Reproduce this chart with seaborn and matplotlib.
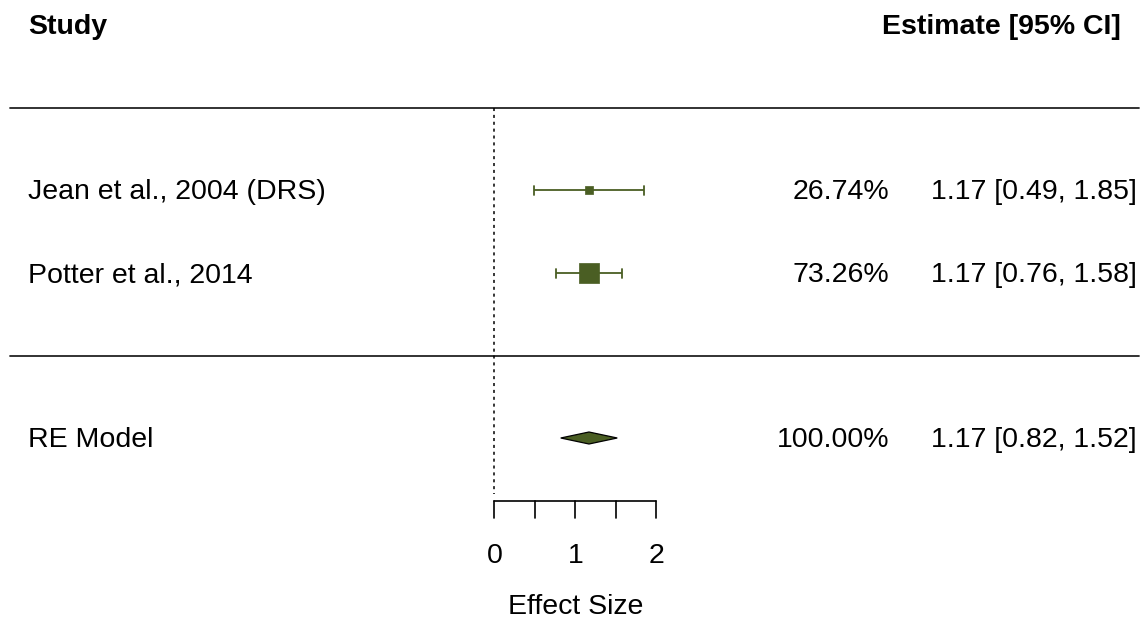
import matplotlib
matplotlib.use("Agg")
import matplotlib.pyplot as plt
import seaborn as sns
import pandas as pd
import numpy as np

studies = ["Jean et al., 2004 (DRS)", "Potter et al., 2014"]
estimates = [1.17, 1.17]
ci_lower = [0.49, 0.76]
ci_upper = [1.85, 1.58]
weights = [26.74, 73.26]

model_label = "RE Model"
model_est = 1.17
model_lower = 0.82
model_upper = 1.52
model_weight = 100.00

tick_values = [0, 0.5, 1, 1.5, 2]
tick_labels = ["0", "", "1", "", "2"]

GREEN = "#4a5e23"
FS = 20.5
FONT = ["Liberation Sans", "DejaVu Sans"]

sns.set_theme(style="white")
plt.rcParams["font.family"] = FONT
plt.rcParams["text.color"] = "black"

fig = plt.figure(figsize=(11.4, 6.21), dpi=100)
ax = fig.add_axes([0, 0, 1, 1])
scale = 80.75
x0 = 494.5
ax.set_xlim(-x0 / scale, (1140 - x0) / scale)
ax.set_ylim(621, 0)
ax.axis("off")

row_y = [190, 273]
model_y = 438
TXT_DY = 2

df = pd.DataFrame({"study": studies, "est": estimates, "lo": ci_lower,
                   "hi": ci_upper, "w": weights, "y": row_y})

# CI lines with caps
for _, r in df.iterrows():
    ax.plot([r.lo, r.hi], [r.y, r.y], color=GREEN, lw=1.3, solid_capstyle="butt")
    for xv in (r.lo, r.hi):
        ax.plot([xv, xv], [r.y - 4.5, r.y + 4.5], color=GREEN, lw=1.3)

sns.scatterplot(data=df, x="est", y="y", size="w", sizes=(28, 200),
                size_norm=(min(weights), max(weights)), marker="s",
                color=GREEN, edgecolor=GREEN, linewidth=0.5, legend=False, ax=ax, zorder=3)

# diamond
half_h = 6.0
ax.fill([model_lower, model_est, model_upper, model_est],
        [model_y, model_y - half_h, model_y, model_y + half_h],
        facecolor=GREEN, edgecolor="black", lw=0.9, zorder=3)

# separators
ax.plot([-x0 / scale + 10 / scale, (1139 - x0) / scale], [108, 108], color="#222222", lw=1.3)
ax.plot([-x0 / scale + 10 / scale, (1139 - x0) / scale], [356, 356], color="#222222", lw=1.3)

# vertical reference line
ax.plot([0, 0], [108, 494], color="black", lw=1.1, ls=(0, (2, 2.5)))

# x axis
axis_y = 501
ax.plot([tick_values[0], tick_values[-1]], [axis_y, axis_y], color="black", lw=1.2)
for tv, tl in zip(tick_values, tick_labels):
    ax.plot([tv, tv], [axis_y, axis_y + 17], color="black", lw=1.2)
    if tl:
        ax.text(tv, 556, tl, ha="center", va="center", fontsize=FS, color="black")
ax.text((tick_values[0] + tick_values[-1]) / 2, 607, "Effect Size", ha="center",
        va="center", fontsize=FS, color="black")

def px(v):
    return (v - x0) / scale

# headers
ax.text(px(28), 25 + TXT_DY, "Study", ha="left", va="center", fontsize=FS,
        fontweight="bold", color="black")
ax.text(px(1121), 25 + TXT_DY, "Estimate [95% CI]", ha="right", va="center",
        fontsize=FS, fontweight="bold", color="black")

# rows text
for s, e, lo, hi, w, y in zip(studies, estimates, ci_lower, ci_upper, weights, row_y):
    ax.text(px(28), y + TXT_DY, s, ha="left", va="center", fontsize=FS, color="black")
    ax.text(px(889), y + TXT_DY, f"{w:.2f}%", ha="right", va="center", fontsize=FS, color="black")
    ax.text(px(1137), y + TXT_DY, f"{e:.2f} [{lo:.2f}, {hi:.2f}]", ha="right",
            va="center", fontsize=FS, color="black")

ax.text(px(28), model_y + TXT_DY, model_label, ha="left", va="center", fontsize=FS, color="black")
ax.text(px(889), model_y + TXT_DY, f"{model_weight:.2f}%", ha="right", va="center",
        fontsize=FS, color="black")
ax.text(px(1137), model_y + TXT_DY, f"{model_est:.2f} [{model_lower:.2f}, {model_upper:.2f}]",
        ha="right", va="center", fontsize=FS, color="black")

fig.savefig("out.png", dpi=100, facecolor="white")
